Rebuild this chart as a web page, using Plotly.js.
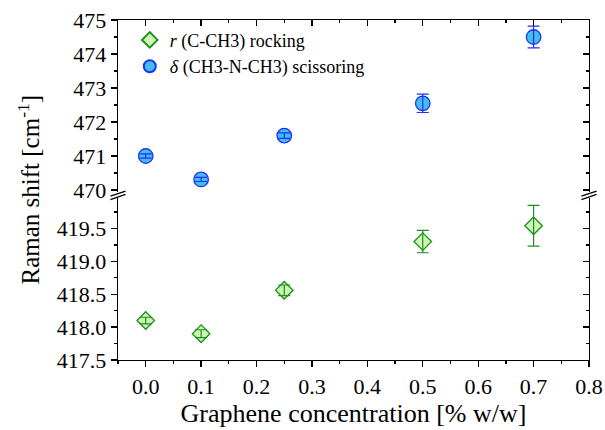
<!DOCTYPE html>
<html>
<head>
<meta charset="utf-8">
<script src="https://cdn.plot.ly/plotly-3.0.1.min.js"></script>
<style>
html,body{margin:0;padding:0;background:#fff;}
#chart{width:605px;height:430px;}
</style>
</head>
<body>
<div id="chart"></div>
<script>
// Data
const concentration = [0.0, 0.1, 0.25, 0.5, 0.7];
const rockingShift = [418.10, 417.90, 418.56, 419.30, 419.54];
const rockingErr = [0.05, 0.06, 0.08, 0.17, 0.31];
const scissorShift = [471.0, 470.31, 471.60, 472.55, 474.50];
const scissorErr = [0.06, 0.06, 0.08, 0.27, 0.32];
const xTicks = [0, 0.1, 0.2, 0.3, 0.4, 0.5, 0.6, 0.7, 0.8];
const xTickText = ['0.0','0.1','0.2','0.3','0.4','0.5','0.6','0.7','0.8'];
const upperTicks = [470, 471, 472, 473, 474, 475];
const lowerTicks = [417.5, 418.0, 418.5, 419.0, 419.5];
const lowerTickText = ['417.5','418.0','418.5','419.0','419.5'];

const FONT = 'Liberation Serif';
const greenLine = '#1f8f1f', greenFill = '#ccf7b4';
const blueLine = '#1f2fff', blueFill = '#45bdea';

const xRange = [-0.05, 0.8];
const upRange = [469.94, 475];
const lowRange = [417.5, 419.96];
const upDomain = [0.494, 1];
const lowDomain = [0, 0.476];

const traces = [
  {x: concentration, y: rockingShift, type: 'scatter', mode: 'markers', xaxis: 'x', yaxis: 'y',
   name: '<i>r</i> (C-CH3) rocking',
   marker: {symbol: 'diamond', size: 13.5, color: greenFill, line: {color: greenLine, width: 1.3}}},
  {x: concentration, y: scissorShift, type: 'scatter', mode: 'markers', xaxis: 'x', yaxis: 'y2',
   name: '<i>δ</i> (CH3-N-CH3) scissoring',
   marker: {symbol: 'circle', size: 14.5, color: blueFill, line: {color: blueLine, width: 1.3}}},
  // error bars drawn above markers
  {x: concentration, y: rockingShift, type: 'scatter', mode: 'markers', xaxis: 'x', yaxis: 'y',
   showlegend: false, hoverinfo: 'skip', marker: {size: 1, opacity: 0},
   error_y: {type: 'data', array: rockingErr, visible: true, color: greenLine, thickness: 1.2, width: 6}},
  {x: concentration, y: scissorShift, type: 'scatter', mode: 'markers', xaxis: 'x', yaxis: 'y2',
   showlegend: false, hoverinfo: 'skip', marker: {size: 1, opacity: 0},
   error_y: {type: 'data', array: scissorErr, visible: true, color: blueLine, thickness: 1.2, width: 6}}
];

const axisCommon = {showgrid: false, zeroline: false, showline: true, linecolor: '#000', linewidth: 1.3,
  tickcolor: '#000', tickwidth: 1.3, tickfont: {family: FONT, size: 22, color: '#000'}};

const layout = {
  width: 605, height: 430,
  margin: {l: 118, r: 16, t: 20, b: 70},
  paper_bgcolor: '#fff', plot_bgcolor: '#fff',
  font: {family: FONT, color: '#000'},
  showlegend: true,
  legend: {x: 0.025, y: 0.995, xanchor: 'left', yanchor: 'top', bgcolor: 'rgba(0,0,0,0)',
    font: {family: FONT, size: 18, color: '#000'}, tracegroupgap: 0, itemsizing: 'constant'},
  xaxis: Object.assign({}, axisCommon, {range: xRange, tickvals: xTicks, ticktext: xTickText,
    ticks: 'outside', ticklen: 6, anchor: 'y',
    minor: {dtick: 0.05, tick0: 0, ticks: 'outside', ticklen: 3, tickcolor: '#000', tickwidth: 1.3},
    title: {text: 'Graphene concentration [% w/w]', font: {family: FONT, size: 26, color: '#000'}, standoff: 6}}),
  xaxis2: Object.assign({}, axisCommon, {range: xRange, tickvals: xTicks, showticklabels: false,
    ticks: 'inside', ticklen: 6, overlaying: 'x', side: 'top', anchor: 'y2',
    minor: {dtick: 0.05, tick0: 0, ticks: 'inside', ticklen: 3, tickcolor: '#000', tickwidth: 1.3}}),
  yaxis: Object.assign({}, axisCommon, {domain: lowDomain, range: lowRange, tickvals: lowerTicks, ticktext: lowerTickText,
    ticks: 'outside', ticklen: 6, anchor: 'x',
    minor: {dtick: 0.25, tick0: 417.5, ticks: 'outside', ticklen: 3, tickcolor: '#000', tickwidth: 1.3}}),
  yaxis2: Object.assign({}, axisCommon, {domain: upDomain, range: upRange, tickvals: upperTicks,
    ticks: 'outside', ticklen: 6, anchor: 'x',
    minor: {dtick: 0.5, tick0: 470, ticks: 'outside', ticklen: 3, tickcolor: '#000', tickwidth: 1.3}}),
  yaxis3: Object.assign({}, axisCommon, {domain: lowDomain, range: lowRange, tickvals: lowerTicks,
    showticklabels: false, ticks: 'inside', ticklen: 6, side: 'right', overlaying: 'y', anchor: 'x',
    minor: {dtick: 0.25, tick0: 417.5, ticks: 'inside', ticklen: 3, tickcolor: '#000', tickwidth: 1.3}}),
  yaxis4: Object.assign({}, axisCommon, {domain: upDomain, range: upRange, tickvals: upperTicks,
    showticklabels: false, ticks: 'inside', ticklen: 6, side: 'right', overlaying: 'y2', anchor: 'x',
    minor: {dtick: 0.5, tick0: 470, ticks: 'inside', ticklen: 3, tickcolor: '#000', tickwidth: 1.3}}),
  annotations: [
    {text: 'Raman shift [cm<sup>-1</sup>]', textangle: -90, xref: 'paper', yref: 'paper',
     x: -0.19, y: 0.5, xanchor: 'center', yanchor: 'middle', showarrow: false,
     font: {family: FONT, size: 25, color: '#000'}}
  ],
  shapes: [
    // axis-break marks
    {type: 'line', xref: 'paper', yref: 'paper', x0: -0.016, x1: 0.016, y0: 0.482, y1: 0.497, line: {color: '#000', width: 1.3}},
    {type: 'line', xref: 'paper', yref: 'paper', x0: -0.016, x1: 0.016, y0: 0.472, y1: 0.487, line: {color: '#000', width: 1.3}},
    {type: 'line', xref: 'paper', yref: 'paper', x0: 0.984, x1: 1.016, y0: 0.482, y1: 0.497, line: {color: '#000', width: 1.3}},
    {type: 'line', xref: 'paper', yref: 'paper', x0: 0.984, x1: 1.016, y0: 0.472, y1: 0.487, line: {color: '#000', width: 1.3}}
  ]
};

// dummy traces to activate overlay axes (mirrored inward ticks)
traces.push({x: [null], y: [null], xaxis: 'x2', yaxis: 'y4', type: 'scatter', showlegend: false, hoverinfo: 'skip'});
traces.push({x: [null], y: [null], xaxis: 'x', yaxis: 'y3', type: 'scatter', showlegend: false, hoverinfo: 'skip'});

Plotly.newPlot('chart', traces, layout, {displayModeBar: false, staticPlot: true});
</script>
</body>
</html>
